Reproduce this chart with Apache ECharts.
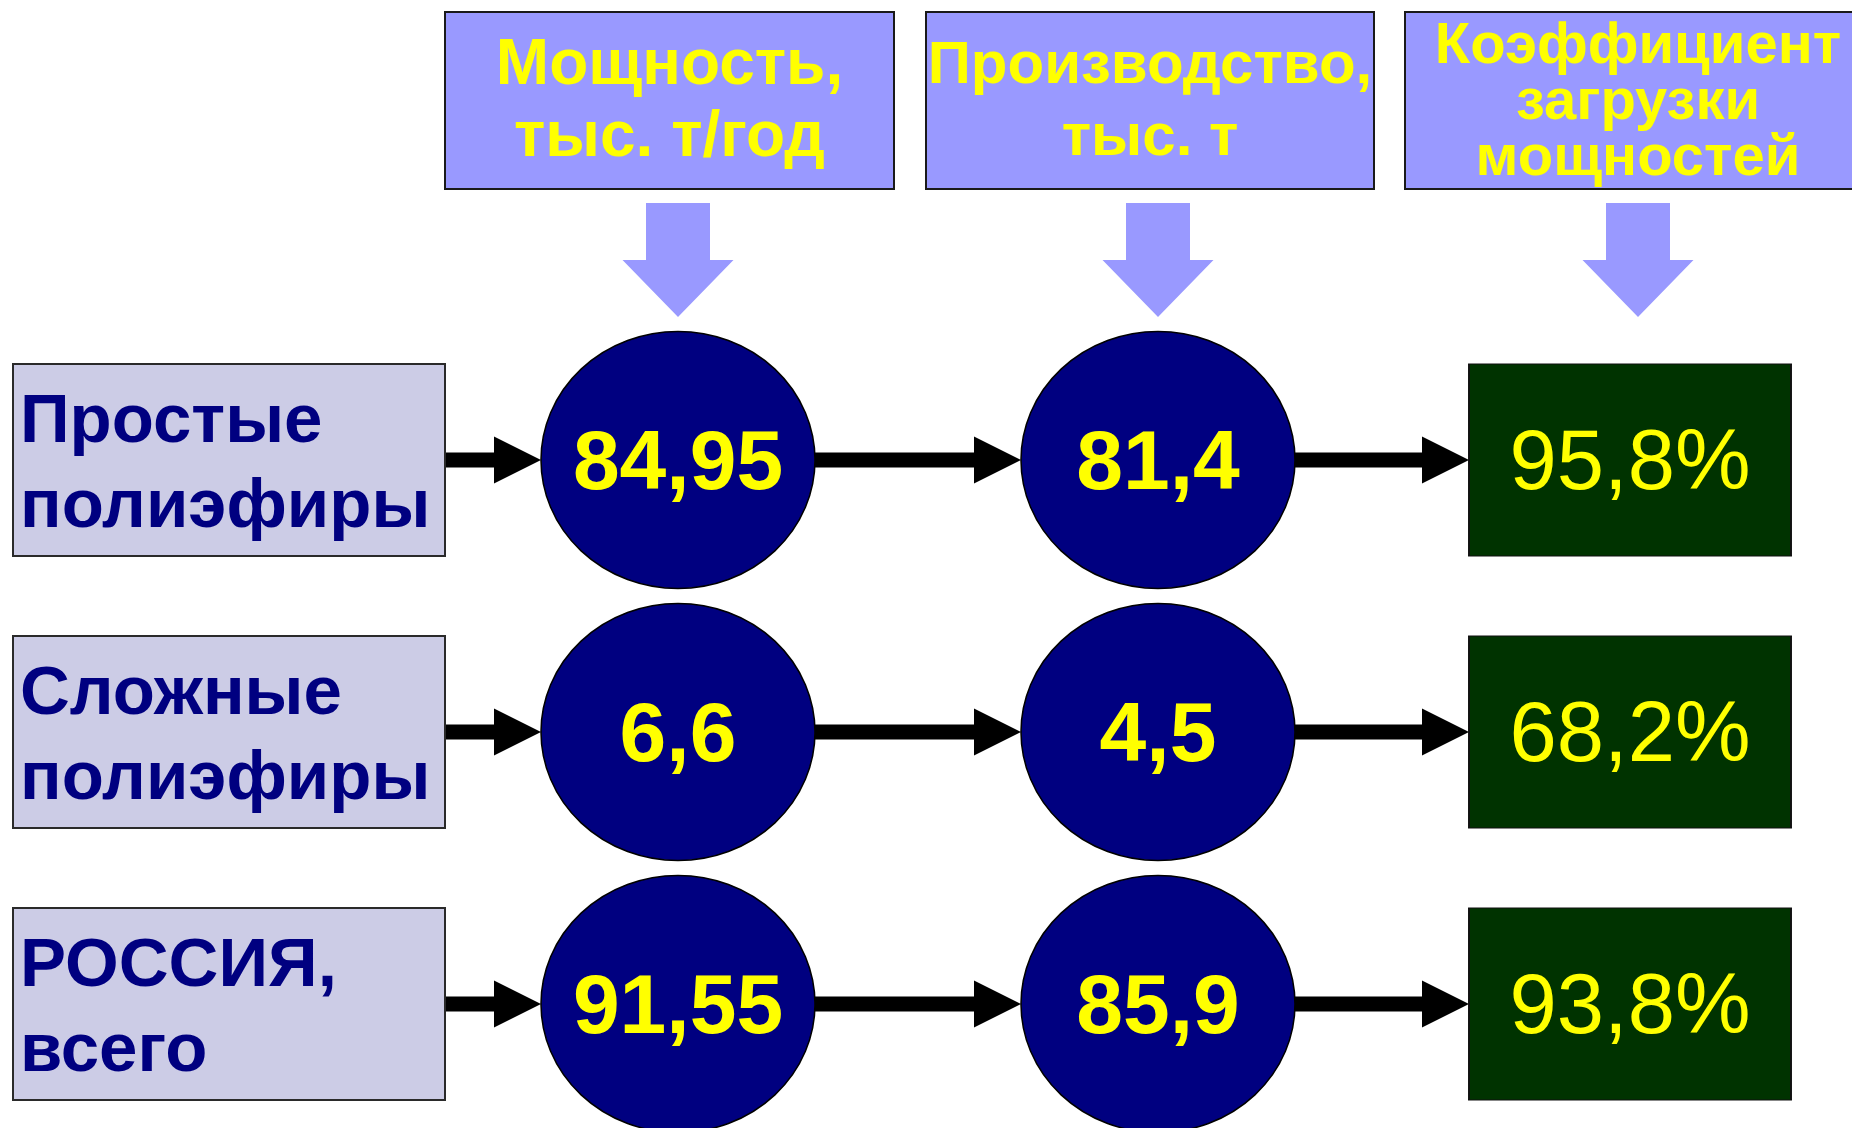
<!DOCTYPE html>
<html><head><meta charset="utf-8">
<script src="https://cdn.jsdelivr.net/npm/echarts@6/dist/echarts.min.js"></script>
<style>html,body{margin:0;padding:0;background:#fff}#c{width:1852px;height:1128px}</style>
</head><body><div id="c"></div>
<script>
// ---- data ----
const headers = ['Мощность,\nтыс. т/год', 'Производство,\nтыс. т', 'Коэффициент\nзагрузки\nмощностей'];
const rowLabels = ['Простые\nполиэфиры', 'Сложные\nполиэфиры', 'РОССИЯ,\nвсего'];
const capacity = [84.95, 6.6, 91.55];     // тыс. т/год
const production = [81.4, 4.5, 85.9];     // тыс. т
const utilization = [95.8, 68.2, 93.8];   // %

// ---- layout (pixel space of the value axes) ----
const W = 1852, H = 1128;
const FONT = '"Liberation Sans", Arial, sans-serif';
const rowY = [460, 732, 1004];
const rowH = 192;
const labelBox = [13, 445];
const circX = [678, 1158];
const circSize = [274, 257];
const greenX = 1630, greenW = 322;
const headerBoxes = [[445, 894], [926, 1374], [1405, 1858]];
const headerFont = [64, 60, 58];
const headerLH = [72, 72, 56];
const headerDy = [2, 2, 2];
const headerTop = 12, headerBot = 189;
const downX = [678, 1158, 1638];
const hArrows = [[445, 494, 541], [815, 974, 1021], [1294, 1422, 1469]];
const fmt = v => String(v).replace('.', ',');

function headerItem(params, api) {
  const i = api.value(0);
  const [x0, x1] = headerBoxes[i];
  const p0 = api.coord([x0, headerTop]), p1 = api.coord([x1, headerBot]);
  const dx = downX[i];
  const a = api.coord([dx, 0]);
  const s0 = api.coord([0, 203])[1], s1 = api.coord([0, 260])[1], s2 = api.coord([0, 317])[1];
  return {
    type: 'group',
    children: [
      { type: 'rect', shape: { x: p0[0], y: p0[1], width: p1[0] - p0[0], height: p1[1] - p0[1] },
        style: { fill: '#9999FF', stroke: '#1a1a1a', lineWidth: 2 } },
      { type: 'text', style: {
          text: headers[i], x: i === 2 ? 1638 : (p0[0] + p1[0]) / 2, y: (p0[1] + p1[1]) / 2 + headerDy[i],
          align: 'center', verticalAlign: 'middle',
          fill: '#FFFF00', fontFamily: FONT, fontWeight: 'bold',
          fontSize: headerFont[i], lineHeight: headerLH[i] } },
      { type: 'polygon', shape: { points: [
          [a[0] - 32, s0], [a[0] + 32, s0], [a[0] + 32, s1], [a[0] + 55.5, s1],
          [a[0], s2], [a[0] - 55.5, s1], [a[0] - 32, s1] ] },
        style: { fill: '#9999FF' } }
    ]
  };
}

function rowItem(params, api) {
  const r = api.value(0);
  const y = rowY[r];
  const p0 = api.coord([labelBox[0], y - rowH / 2]), p1 = api.coord([labelBox[1], y + rowH / 2]);
  const children = [
    { type: 'rect', shape: { x: p0[0], y: p0[1], width: p1[0] - p0[0], height: p1[1] - p0[1] },
      style: { fill: '#CCCCE6', stroke: '#2a2a2a', lineWidth: 2 } },
    { type: 'text', style: {
        text: rowLabels[r], x: p0[0] + 7, y: (p0[1] + p1[1]) / 2 + 5,
        align: 'left', verticalAlign: 'middle',
        fill: '#000080', fontFamily: FONT, fontWeight: 'bold', fontSize: 69, lineHeight: 85 } }
  ];
  hArrows.forEach(([xs, xh, xe]) => {
    const c = api.coord([xs, y]);
    const h = api.coord([xh, y]);
    const e = api.coord([xe, y]);
    const t = 7.5, hh = 23.5;
    children.push({ type: 'polygon', z2: -1, shape: { points: [
      [c[0], c[1] - t], [h[0], c[1] - t], [h[0], c[1] - hh], [e[0], c[1]],
      [h[0], c[1] + hh], [h[0], c[1] + t], [c[0], c[1] + t] ] },
      style: { fill: '#000000' } });
  });
  return { type: 'group', children };
}

const circleStyle = { color: '#000080', borderColor: '#000', borderWidth: 1.5, opacity: 1 };
const circleLabel = { show: true, position: 'inside', color: '#FFFF00', fontFamily: FONT,
  fontWeight: 'bold', fontSize: 84, offset: [0, 6] };

const option = {
  animation: false,
  grid: { left: 0, right: 0, top: 0, bottom: 0 },
  xAxis: { type: 'value', min: 0, max: W, show: false },
  yAxis: { type: 'value', min: 0, max: H, inverse: true, show: false },
  series: [
    { type: 'custom', renderItem: headerItem, data: headers.map((h, i) => [i, 0]), z: 1 },
    { type: 'custom', renderItem: rowItem, data: rowLabels.map((h, i) => [i, 0]), z: 1 },
    { type: 'scatter', z: 3, symbol: 'circle', symbolSize: circSize, itemStyle: circleStyle,
      emphasis: { disabled: true },
      label: Object.assign({}, circleLabel, { formatter: p => fmt(capacity[p.dataIndex]) }),
      data: capacity.map((v, i) => [circX[0], rowY[i]]) },
    { type: 'scatter', z: 3, symbol: 'circle', symbolSize: circSize, itemStyle: circleStyle,
      emphasis: { disabled: true },
      label: Object.assign({}, circleLabel, { formatter: p => fmt(production[p.dataIndex]) }),
      data: production.map((v, i) => [circX[1], rowY[i]]) },
    { type: 'scatter', z: 3, symbol: 'rect', symbolSize: [greenW, rowH],
      emphasis: { disabled: true },
      itemStyle: { color: '#003300', borderColor: '#111', borderWidth: 1.5, opacity: 1 },
      label: { show: true, position: 'inside', color: '#FFFF00', fontFamily: FONT, fontSize: 85,
        offset: [0, 6], formatter: p => fmt(utilization[p.dataIndex]) + '%' },
      data: utilization.map((v, i) => [greenX, rowY[i]]) }
  ]
};
const chart = echarts.init(document.getElementById('c'));
chart.setOption(option);
</script>
</body></html>
